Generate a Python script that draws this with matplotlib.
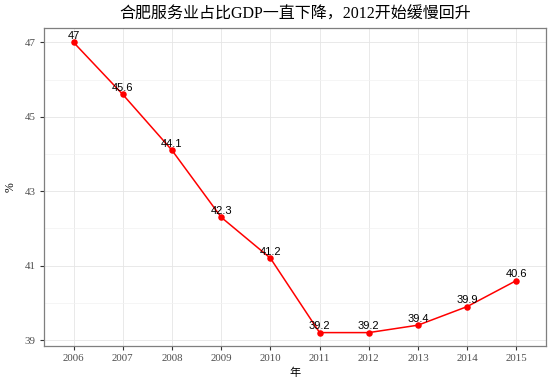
import matplotlib
matplotlib.use("Agg")
import matplotlib.pyplot as plt
from matplotlib.ticker import MultipleLocator

years = ["2006", "2007", "2008", "2009", "2010", "2011", "2012", "2013", "2014", "2015"]
values = [47, 45.6, 44.1, 42.3, 41.2, 39.2, 39.2, 39.4, 39.9, 40.6]
labels = ["47", "45.6", "44.1", "42.3", "41.2", "39.2", "39.2", "39.4", "39.9", "40.6"]
title = "合肥服务业占比GDP一直下降，2012开始缓慢回升"

serif = ["Liberation Serif", "Noto Sans CJK SC", "DejaVu Sans"]

fig = plt.figure(figsize=(5.55, 3.88), dpi=100)
ax = fig.add_axes([44/555, 1-346/388, (546-44)/555, (346-28)/388])

x = list(range(len(years)))
ax.plot(x, values, color="red", lw=1.1, zorder=3)
ax.scatter(x, values, color="red", s=22, zorder=4, linewidths=0)
for xi, v, lab in zip(x, values, labels):
    ax.text(xi, v + 0.04, lab, ha="center", va="bottom", fontsize=8,
            family=["Liberation Sans", "DejaVu Sans"], color="black", zorder=5)

ax.set_xlim(-0.6, len(years) - 1 + 0.6)
ax.set_ylim(38.84, 47.385)
ax.set_xticks(x)
ax.set_xticklabels(years)
ax.set_yticks([39, 41, 43, 45, 47])
ax.yaxis.set_minor_locator(MultipleLocator(1))
ax.grid(True, which="major", color="#E5E5E5", lw=0.6)
ax.grid(True, which="minor", axis="y", color="#F2F2F2", lw=0.5)
ax.set_axisbelow(True)
for s in ax.spines.values():
    s.set_color("#7F7F7F")
    s.set_linewidth(0.9)
ax.tick_params(axis="both", which="major", length=3, width=0.8, color="#333333",
               labelsize=7.8, labelcolor="#4D4D4D", pad=3)
ax.tick_params(axis="y", which="minor", length=0)
for t in ax.get_xticklabels() + ax.get_yticklabels():
    t.set_family(serif)

ax.set_xlabel("年", family=serif, fontsize=8, labelpad=3, fontweight="light")
ax.set_ylabel("%", family=serif, fontsize=8.5, labelpad=6)
fig.text((44+546)/2/555, 1-15/388, title, ha="center", va="center",
         family=serif, fontsize=11.5, fontweight="light")

fig.savefig("out.png", dpi=100)
